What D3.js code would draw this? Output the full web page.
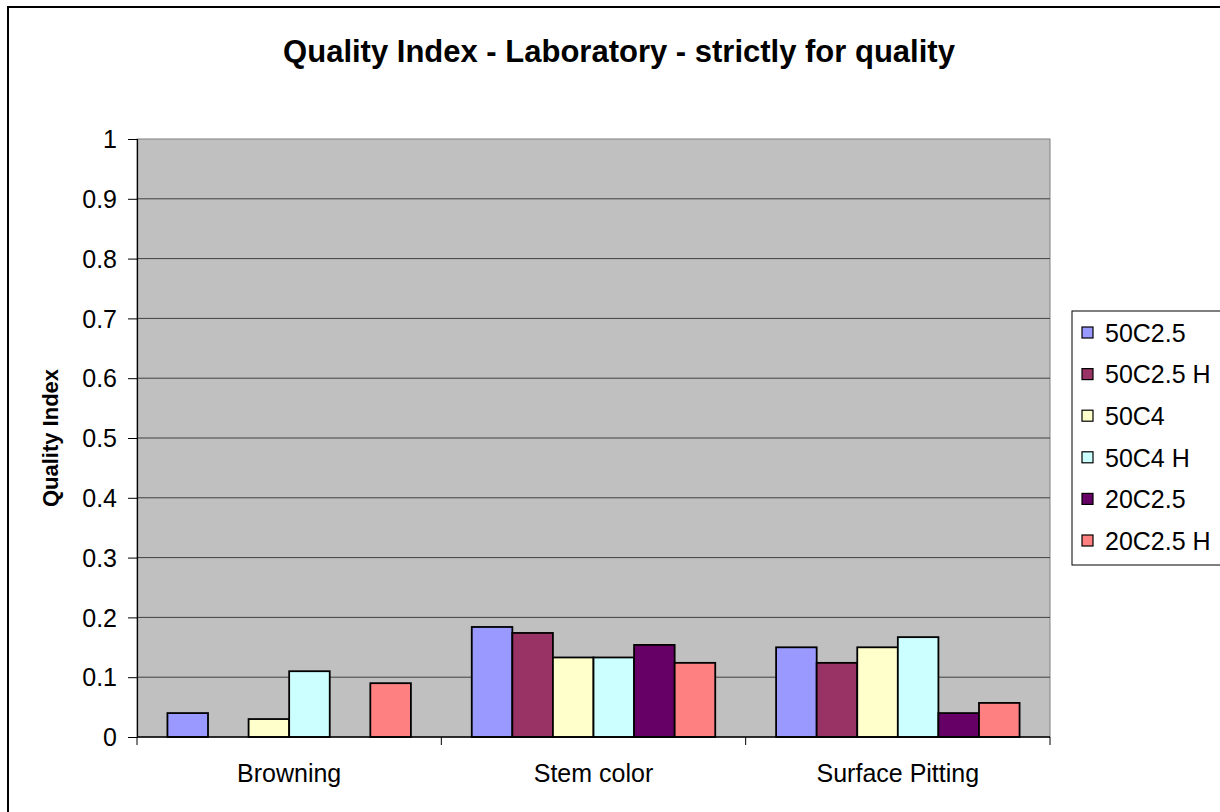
<!DOCTYPE html>
<meta charset="utf-8">
<style>
body { margin: 0; background: #fff; }
text { font-family: "Liberation Sans", Arial, sans-serif; fill: #000; }
.grid line { stroke: #404040; stroke-width: 1; }
.bars rect { stroke: #000; stroke-width: 1.8; }
</style>
<svg width="1220" height="812"></svg>
<script src="https://cdnjs.cloudflare.com/ajax/libs/d3/7.8.5/d3.min.js"></script>
<script>

var categories = ["Browning", "Stem color", "Surface Pitting"];
var series = ["50C2.5", "50C2.5 H", "50C4", "50C4 H", "20C2.5", "20C2.5 H"];
var colors = ["#9999FF", "#993366", "#FFFFCC", "#CCFFFF", "#660066", "#FF8080"];

// one array per series, values in category order
var v50C25  = [0.04, 0.184, 0.15];
var v50C25H = [0,    0.174, 0.124];
var v50C4   = [0.03, 0.133, 0.15];
var v50C4H  = [0.11, 0.133, 0.167];
var v20C25  = [0,    0.154, 0.04];
var v20C25H = [0.09, 0.124, 0.057];
var values = [v50C25, v50C25H, v50C4, v50C4H, v20C25, v20C25H];

var yTicks = [0, 0.1, 0.2, 0.3, 0.4, 0.5, 0.6, 0.7, 0.8, 0.9, 1];

var plot = {left: 137, top: 139, right: 1050, bottom: 737};

var svg = d3.select("svg");

// outer chart border (right and bottom edges run off the picture)
svg.append("rect")
	.attr("x", 8).attr("y", 7)
	.attr("width", 1230).attr("height", 820)
	.attr("fill", "#fff")
	.attr("stroke", "#000")
	.attr("stroke-width", 2);

var x0 = d3.scaleBand()
	.domain(categories)
	.range([plot.left, plot.right])
	.paddingInner(0.2)
	.paddingOuter(0.1);

var x1 = d3.scaleBand()
	.domain(series)
	.range([0, x0.bandwidth()]);

var y = d3.scaleLinear()
	.domain([0, 1])
	.range([plot.bottom, plot.top]);

var color = d3.scaleOrdinal().domain(series).range(colors);

// plot background
svg.append("rect")
	.attr("x", plot.left).attr("y", plot.top)
	.attr("width", plot.right - plot.left)
	.attr("height", plot.bottom - plot.top)
	.attr("fill", "#C0C0C0")
	.attr("stroke", "#808080")
	.attr("stroke-width", 1);

// gridlines
svg.append("g")
	.attr("class", "grid")
	.selectAll("line")
	.data(yTicks.filter(function(d) { return d > 0 && d < 1; }))
	.enter().append("line")
		.attr("x1", plot.left).attr("x2", plot.right)
		.attr("y1", function(d) { return y(d); })
		.attr("y2", function(d) { return y(d); });

// bars
var data = [];
categories.forEach(function(c, ci) {
	series.forEach(function(s, si) {
		data.push({cat: c, ser: s, value: values[si][ci]});
	});
});

svg.append("g")
	.attr("class", "bars")
	.selectAll("rect")
	.data(data.filter(function(d) { return d.value > 0; }))
	.enter().append("rect")
		.attr("x", function(d) { return x0(d.cat) + x1(d.ser); })
		.attr("y", function(d) { return y(d.value); })
		.attr("width", x1.bandwidth())
		.attr("height", function(d) { return y(0) - y(d.value); })
		.attr("fill", function(d) { return color(d.ser); });

// y axis
var yAxis = d3.axisLeft(y)
	.tickValues(yTicks)
	.tickSize(9)
	.tickPadding(11)
	.tickFormat(function(d) { return d3.format("")(d); });

var gy = svg.append("g")
	.attr("transform", "translate(" + plot.left + ",0)")
	.call(yAxis);
gy.attr("font-size", null).attr("font-family", null);
gy.select(".domain").attr("stroke", "#000").attr("stroke-width", 1.2);
gy.selectAll(".tick line").attr("stroke", "#000");
gy.selectAll("text")
	.style("font-size", "25px")
	.attr("dy", "0.35em");

// x axis
var gx = svg.append("g");
gx.append("line")
	.attr("x1", plot.left).attr("x2", plot.right)
	.attr("y1", plot.bottom).attr("y2", plot.bottom)
	.attr("stroke", "#000").attr("stroke-width", 1.5);

var step = x0.step();
var bounds = d3.range(categories.length + 1).map(function(i) { return plot.left + i * step; });
gx.selectAll("line.tk")
	.data(bounds)
	.enter().append("line")
		.attr("class", "tk")
		.attr("x1", function(d) { return d; }).attr("x2", function(d) { return d; })
		.attr("y1", plot.bottom).attr("y2", plot.bottom + 8)
		.attr("stroke", "#000");

gx.selectAll("text")
	.data(categories)
	.enter().append("text")
		.attr("x", function(d) { return x0(d) + x0.bandwidth() / 2; })
		.attr("y", 782)
		.attr("text-anchor", "middle")
		.style("font-size", "25px")
		.text(function(d) { return d; });

// title
svg.append("text")
	.attr("x", 619).attr("y", 62)
	.attr("text-anchor", "middle")
	.style("font-size", "31px")
	.style("font-weight", "bold")
	.text("Quality Index - Laboratory - strictly for quality");

// y axis title
svg.append("text")
	.attr("transform", "translate(58,438) rotate(-90)")
	.attr("text-anchor", "middle")
	.style("font-size", "22px")
	.style("font-weight", "bold")
	.text("Quality Index");

// legend (right edge runs off the picture)
var legend = svg.append("g");
legend.append("rect")
	.attr("x", 1072).attr("y", 311)
	.attr("width", 170).attr("height", 254)
	.attr("fill", "#fff")
	.attr("stroke", "#000")
	.attr("stroke-width", 1);

var item = legend.selectAll("g.item")
	.data(series)
	.enter().append("g")
		.attr("class", "item")
		.attr("transform", function(d, i) { return "translate(1082," + (333 + i * 41.6) + ")"; });

item.append("rect")
	.attr("x", 0).attr("y", -6)
	.attr("width", 11).attr("height", 11)
	.attr("fill", function(d) { return color(d); })
	.attr("stroke", "#000")
	.attr("stroke-width", 1.2);

item.append("text")
	.attr("x", 23).attr("y", 0)
	.attr("dy", "0.35em")
	.style("font-size", "25px")
	.text(function(d) { return d; });

</script>
